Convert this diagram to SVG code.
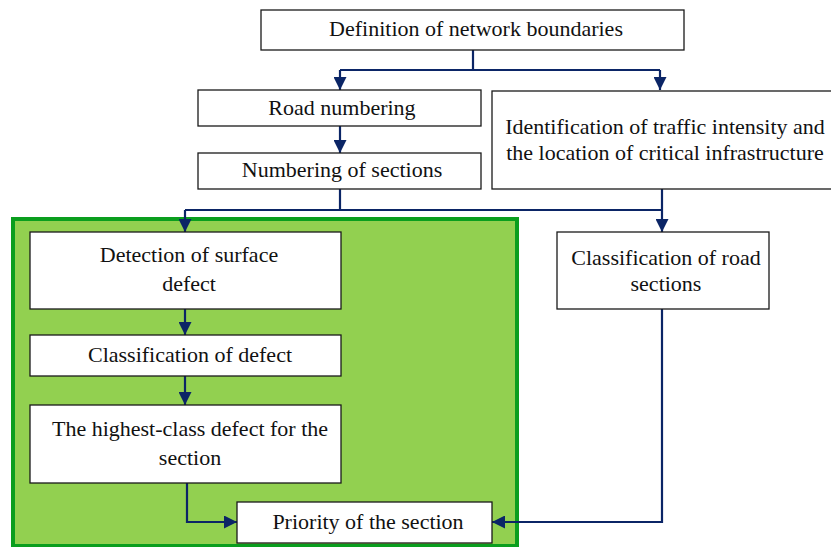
<svg xmlns="http://www.w3.org/2000/svg" width="831" height="547" viewBox="0 0 831 547">
<style>
.box{fill:#fff;stroke:#1a1a1a;stroke-width:1.3}
.t{font-family:"Liberation Serif","Times New Roman",serif;font-size:22px;fill:#111;text-anchor:middle}
.c{fill:none;stroke:#0b2566;stroke-width:2.2}
</style>
<defs>
<marker id="ah" markerUnits="userSpaceOnUse" markerWidth="13" markerHeight="13" refX="13" refY="6.5" orient="auto">
<path d="M0,0 L13,6.5 L0,13 z" fill="#0b2566"/>
</marker>
</defs>
<rect x="0" y="0" width="831" height="547" fill="#fff"/>
<g id="group-green">
<rect x="13" y="219" width="504" height="327" fill="#92d050" stroke="#0a9e1e" stroke-width="4"/>
</g>
<g id="connectors">
<path class="c" d="M473,50 V70 M340,70 H660"/>
<path class="c" d="M340,70 V90" marker-end="url(#ah)"/>
<path class="c" d="M660,70 V90" marker-end="url(#ah)"/>
<path class="c" d="M340,126 V153" marker-end="url(#ah)"/>
<path class="c" d="M340,189 V210 M185,210 H662 M662,189 V210"/>
<path class="c" d="M185,210 V232" marker-end="url(#ah)"/>
<path class="c" d="M662,210 V232" marker-end="url(#ah)"/>
<path class="c" d="M185,309 V335" marker-end="url(#ah)"/>
<path class="c" d="M185,376 V405" marker-end="url(#ah)"/>
<path class="c" d="M187,483 V522 H237" marker-end="url(#ah)"/>
<path class="c" d="M662,309 V522 H492" marker-end="url(#ah)"/>
</g>
<g id="n-definition">
<rect class="box" x="261" y="10" width="423" height="40"/>
<text class="t" x="476" y="36">Definition of network boundaries</text>
</g>
<g id="n-road-numbering">
<rect class="box" x="198" y="90" width="283" height="36"/>
<text class="t" x="342" y="115">Road numbering</text>
</g>
<g id="n-numbering-sections">
<rect class="box" x="198" y="153" width="283" height="36"/>
<text class="t" x="342" y="177">Numbering of sections</text>
</g>
<g id="n-identification">
<rect class="box" x="492" y="91" width="350" height="98"/>
<text class="t" x="665" y="134">Identification of traffic intensity and</text>
<text class="t" x="665" y="160">the location of critical infrastructure</text>
</g>
<g id="n-detection">
<rect class="box" x="30" y="232" width="311" height="77"/>
<text class="t" x="189" y="262">Detection of surface</text>
<text class="t" x="189" y="291">defect</text>
</g>
<g id="n-classification-defect">
<rect class="box" x="30" y="335" width="311" height="41"/>
<text class="t" x="190" y="362">Classification of defect</text>
</g>
<g id="n-highest">
<rect class="box" x="30" y="405" width="311" height="78"/>
<text class="t" x="190" y="436">The highest-class defect for the</text>
<text class="t" x="190" y="465">section</text>
</g>
<g id="n-classification-road">
<rect class="box" x="557" y="232" width="212" height="77"/>
<text class="t" x="666" y="265">Classification of road</text>
<text class="t" x="666" y="291">sections</text>
</g>
<g id="n-priority">
<rect class="box" x="237" y="502" width="255" height="41"/>
<text class="t" x="368" y="529">Priority of the section</text>
</g>
</svg>
